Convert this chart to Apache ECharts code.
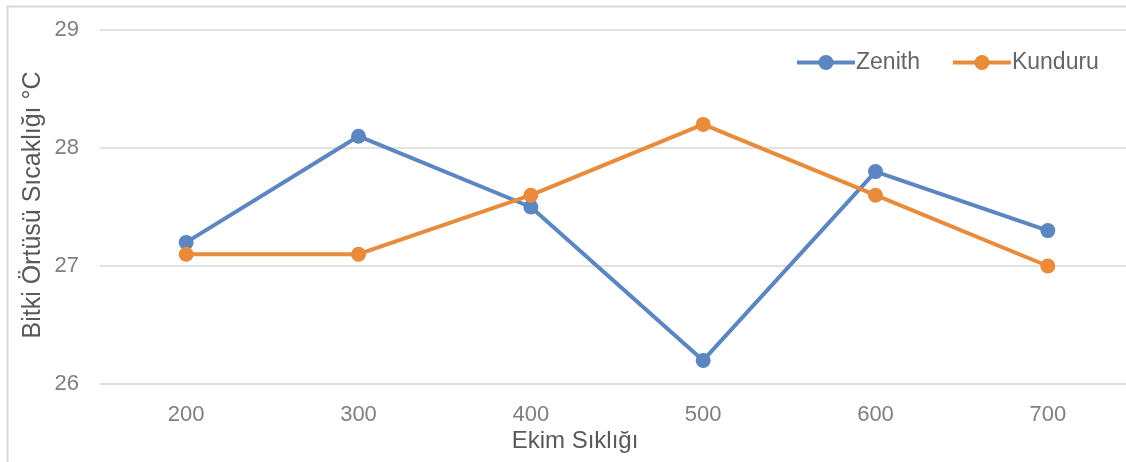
<!DOCTYPE html>
<html>
<head>
<meta charset="utf-8">
<script src="https://cdn.jsdelivr.net/npm/echarts@6/dist/echarts.min.js"></script>
<style>
  html, body { margin: 0; padding: 0; background: #fff; }
  #chart { width: 1126px; height: 462px; }
</style>
</head>
<body>
<div id="chart"></div>
<script>
// Plant canopy temperature by sowing density for two wheat cultivars
const categories = ['200', '300', '400', '500', '600', '700'];
const zenith = [27.2, 28.1, 27.5, 26.2, 27.8, 27.3];
const kunduru = [27.1, 27.1, 27.6, 28.2, 27.6, 27.0];
const yTicks = { min: 26, max: 29, interval: 1 };
const xTitle = 'Ekim Sıklığı';
const yTitle = 'Bitki Örtüsü Sıcaklığı °C';

const FONT = '"Liberation Sans", Arial, sans-serif';
const BLUE = '#5b86c1';
const ORANGE = '#ea8a3b';

const chart = echarts.init(document.getElementById('chart'), null, { renderer: 'canvas' });

function lineSeries(name, data, color) {
  return {
    name: name,
    type: 'line',
    data: data,
    symbol: 'circle',
    symbolSize: 15,
    lineStyle: { width: 4, color: color },
    itemStyle: { color: color },
    emphasis: { disabled: true },
    animation: false
  };
}

chart.setOption({
  animation: false,
  grid: {
    left: 100, top: 30, width: 1034, bottom: 78,
    containLabel: false,
    outerBoundsMode: 'none'
  },
  legend: {
    left: 790,
    top: 46,
    itemWidth: 58,
    itemHeight: 19,
    itemGap: 31,
    lineStyle: { width: 4 },
    textStyle: { fontFamily: FONT, fontSize: 23, color: '#666666', padding: [0, 0, 0, -4] },
    data: ['Zenith', 'Kunduru']
  },
  xAxis: {
    type: 'category',
    data: categories,
    boundaryGap: true,
    axisLine: { show: false },
    axisTick: { show: false },
    axisLabel: { fontFamily: FONT, fontSize: 22, color: '#7f7f7f', margin: 20 }
  },
  yAxis: {
    type: 'value',
    min: yTicks.min,
    max: yTicks.max,
    interval: yTicks.interval,
    axisLine: { show: false },
    axisTick: { show: false },
    axisLabel: { fontFamily: FONT, fontSize: 22, color: '#7f7f7f', margin: 21 },
    splitLine: { lineStyle: { color: '#d9d9d9', width: 1.5 } }
  },
  graphic: [
    {
      type: 'polyline',
      shape: { points: [[7.5, 470], [7.5, 6.5], [1130, 6.5]] },
      style: { stroke: '#d9d9d9', lineWidth: 2, fill: null },
      silent: true
    },
    {
      type: 'text',
      x: 575,
      y: 441,
      style: {
        text: xTitle,
        font: '24px ' + FONT,
        fill: '#595959',
        textAlign: 'center',
        textVerticalAlign: 'middle'
      }
    },
    {
      type: 'text',
      x: 33,
      y: 205,
      rotation: Math.PI / 2,
      style: {
        text: yTitle,
        font: '25px ' + FONT,
        fill: '#595959',
        textAlign: 'center',
        textVerticalAlign: 'middle'
      }
    }
  ],
  series: [
    lineSeries('Zenith', zenith, BLUE),
    lineSeries('Kunduru', kunduru, ORANGE)
  ]
});
</script>
</body>
</html>
